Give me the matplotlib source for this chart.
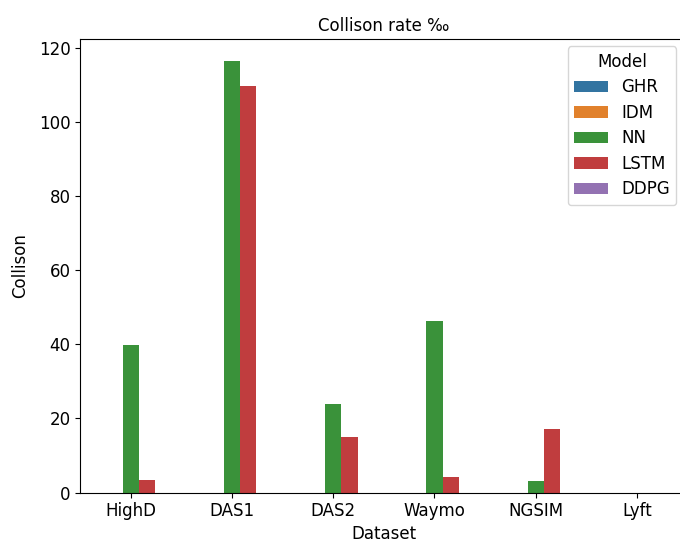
import pandas as pd
import seaborn as sns
import matplotlib
matplotlib.use("Agg")
import matplotlib.pyplot as plt

# --- DATA ---
datasets = ["HighD", "DAS1", "DAS2", "Waymo", "NGSIM", "Lyft"]
models = ["GHR", "IDM", "NN", "LSTM", "DDPG"]
ghr = [0, 0, 0, 0, 0, 0]
idm = [0, 0, 0, 0, 0, 0]
nn = [39.8, 116.5, 23.8, 46.2, 3.2, 0]
lstm = [3.5, 109.7, 15.1, 4.3, 17.3, 0]
ddpg = [0, 0, 0, 0, 0, 0]

rows = []
for m, vals in zip(models, [ghr, idm, nn, lstm, ddpg]):
    for d, v in zip(datasets, vals):
        rows.append({"Dataset": d, "Model": m, "Collison": v})
df = pd.DataFrame(rows)

# --- PLOT ---
# axes run slightly past the right edge, as in the cropped original
fig = plt.figure(figsize=(6.8, 5.42), dpi=100)
ax = fig.add_axes([0.118, 0.091, 0.893, 0.837])
sns.barplot(data=df, x="Dataset", y="Collison", hue="Model",
            order=datasets, hue_order=models, ax=ax)
ax.set_title("Collison rate ‰", fontsize=12)
ax.set_ylim(0, 122.3)
ax.set_yticks(range(0, 121, 20))
ax.tick_params(labelsize=12)
ax.set_xlabel("Dataset", fontsize=12, labelpad=3)
ax.set_ylabel("Collison", fontsize=12, labelpad=7)
ax.legend(title="Model", loc="upper right", fontsize=12, title_fontsize=12,
          borderaxespad=0.3, labelspacing=0.45, bbox_to_anchor=(0.99, 0.995))

fig.savefig("out.png", dpi=100)
